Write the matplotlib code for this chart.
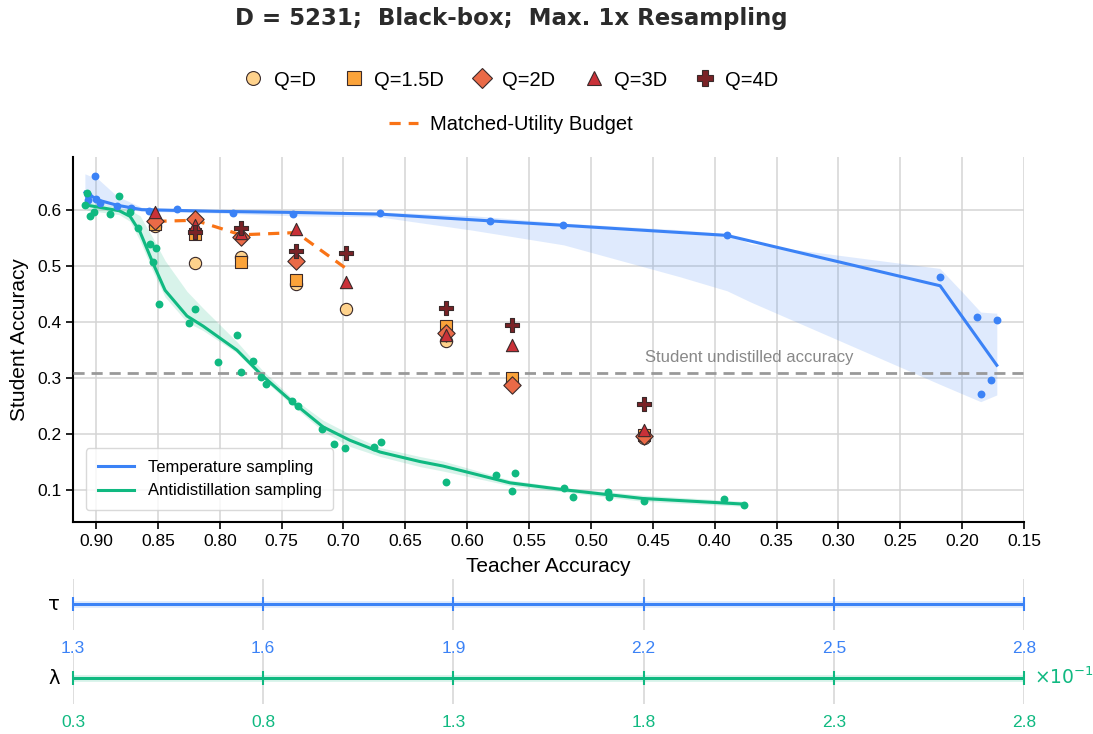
#-  Python 3 source code

#   Student vs. teacher accuracy under temperature and antidistillation
#   sampling, with the matched-budget query results overlaid and the two
#   sampling knobs (tau, lambda) drawn as scales underneath.

import matplotlib
matplotlib.use("Agg")
import matplotlib.pyplot as pyplot
from matplotlib.lines import Line2D
import numpy as np

pyplot.rcParams["font.family"] = ["Liberation Sans", "DejaVu Sans"]

BLUE = "#3B82F6"
GREEN = "#10B981"
ORANGE = "#F97316"

###

# Temperature sampling runs (teacher acc, student acc)
temp_x = [0.9008, 0.9067, 0.9062, 0.9002, 0.8968, 0.8833, 0.8720, 0.8572,
          0.8348, 0.7893, 0.7411, 0.6708, 0.5820, 0.5224, 0.3904, 0.2178,
          0.1884, 0.1720, 0.1768, 0.1851]
temp_y = [0.661, 0.628, 0.618, 0.620, 0.612, 0.607, 0.604, 0.599,
          0.603, 0.595, 0.594, 0.595, 0.580, 0.573, 0.555, 0.481,
          0.410, 0.404, 0.296, 0.271]

# Mean curve and confidence band for temperature sampling
temp_line_x = [0.9089, 0.8981, 0.8833, 0.8631, 0.8038, 0.7411, 0.6708,
               0.5822, 0.5224, 0.3904, 0.2178, 0.1720]
temp_line_y = [0.632, 0.618, 0.609, 0.601, 0.598, 0.596, 0.593,
               0.581, 0.573, 0.555, 0.465, 0.323]
temp_band_x = [0.909, 0.898, 0.883, 0.863, 0.804, 0.741, 0.671, 0.595,
               0.522, 0.428, 0.390, 0.371, 0.218, 0.200, 0.185, 0.172]
temp_band_lo = [0.615, 0.612, 0.604, 0.598, 0.595, 0.590, 0.588, 0.564,
                0.538, 0.481, 0.456, 0.436, 0.289, 0.272, 0.258, 0.270]
temp_band_hi = [0.665, 0.655, 0.625, 0.605, 0.601, 0.599, 0.597, 0.590,
                0.577, 0.565, 0.558, 0.540, 0.496, 0.454, 0.418, 0.416]

# Antidistillation sampling runs
anti_x = [0.9075, 0.9089, 0.9048, 0.9016, 0.8812, 0.8887, 0.8725, 0.8658,
          0.8564, 0.8515, 0.8542, 0.8493, 0.8198, 0.8246, 0.7863, 0.8017,
          0.7734, 0.7828, 0.7667, 0.7629, 0.7419, 0.7368, 0.7172, 0.7075,
          0.6986, 0.6754, 0.6697, 0.6172, 0.5770, 0.5617, 0.5639, 0.5216,
          0.5143, 0.4863, 0.4852, 0.4570, 0.3923, 0.3767]
anti_y = [0.630, 0.609, 0.590, 0.597, 0.626, 0.594, 0.597, 0.568,
          0.539, 0.533, 0.507, 0.432, 0.424, 0.398, 0.377, 0.328,
          0.330, 0.311, 0.302, 0.289, 0.260, 0.251, 0.210, 0.182,
          0.176, 0.177, 0.186, 0.115, 0.127, 0.130, 0.098, 0.104,
          0.088, 0.096, 0.088, 0.080, 0.085, 0.073]

anti_line_x = [0.9075, 0.8812, 0.8725, 0.8644, 0.8539, 0.8442, 0.8265,
               0.8135, 0.7861, 0.7659, 0.7432, 0.7166, 0.6948, 0.6705,
               0.6382, 0.6196, 0.5655, 0.5194, 0.4580, 0.3764]
anti_line_y = [0.609, 0.599, 0.589, 0.561, 0.505, 0.457, 0.411,
               0.393, 0.350, 0.305, 0.261, 0.213, 0.189, 0.168,
               0.151, 0.143, 0.113, 0.100, 0.085, 0.075]
anti_band_lo = [0.600, 0.592, 0.580, 0.545, 0.490, 0.445, 0.400,
                0.385, 0.345, 0.300, 0.255, 0.205, 0.178, 0.160,
                0.142, 0.134, 0.108, 0.096, 0.080, 0.071]
anti_band_hi = [0.615, 0.605, 0.600, 0.590, 0.550, 0.510, 0.455,
                0.425, 0.365, 0.315, 0.268, 0.225, 0.200, 0.176,
                0.160, 0.152, 0.118, 0.104, 0.091, 0.080]

# Query-budget results, one entry per teacher setting (nan = not run)
nan = float("nan")
budget_x = [0.852, 0.820, 0.783, 0.738, 0.698, 0.617, 0.564, 0.457]
q_labels = ["Q=D", "Q=1.5D", "Q=2D", "Q=3D", "Q=4D"]
q_markers = ["o", "s", "D", "^", "P"]
q_colors = ["#FED28C", "#FBA33A", "#EA6A47", "#C93138", "#7A2226"]
q_values = [
    [0.571, 0.506, 0.517, 0.469, 0.424, 0.367, 0.291, 0.193],
    [0.576, 0.557, 0.508, 0.476, nan, 0.393, 0.301, 0.199],
    [0.580, 0.585, 0.552, 0.510, nan, 0.381, 0.288, 0.197],
    [0.597, 0.573, 0.560, 0.566, 0.472, 0.377, 0.359, 0.207],
    [nan, 0.561, 0.569, 0.527, 0.523, 0.426, 0.395, 0.254],
]

matched_x = [0.852, 0.820, 0.783, 0.738, 0.698]
matched_y = [0.580, 0.582, 0.556, 0.560, 0.496]

undistilled_acc = 0.31

tau_ticks = [1.3, 1.6, 1.9, 2.2, 2.5, 2.8]
lambda_ticks = [0.3, 0.8, 1.3, 1.8, 2.3, 2.8]

###

def draw_main(fig):

    ax = fig.add_axes([0.0668, 0.2888, 0.8701, 0.4973])

    ax.fill_between(temp_band_x, temp_band_lo, temp_band_hi,
                    color=BLUE, alpha=0.16, linewidth=0, zorder=2)
    ax.fill_between(anti_line_x, anti_band_lo, anti_band_hi,
                    color=GREEN, alpha=0.16, linewidth=0, zorder=2)

    ax.plot(temp_line_x, temp_line_y, color=BLUE, lw=2.2, zorder=3,
            label="Temperature sampling")
    ax.plot(anti_line_x, anti_line_y, color=GREEN, lw=2.2, zorder=3,
            label="Antidistillation sampling")
    ax.scatter(temp_x, temp_y, s=32, color=BLUE, zorder=4, linewidths=0)
    ax.scatter(anti_x, anti_y, s=32, color=GREEN, zorder=4, linewidths=0)

    ax.axhline(undistilled_acc, color="#999999", lw=2, ls=(0, (4, 2.5)),
               zorder=3)
    ax.text(0.4564, undistilled_acc + 0.027, "Student undistilled accuracy",
            color="#888888", fontsize=12, va="center", ha="left")

    ax.plot(matched_x, matched_y, color=ORANGE, lw=2.3, ls=(0, (3.5, 2.5)),
            zorder=5)

    for vals, mk, col in zip(q_values, q_markers, q_colors):
        size = 90 if mk == "P" else 78
        ax.scatter(budget_x, vals, marker=mk, s=size, color=col,
                   edgecolors="#3a2a2a", linewidths=0.8, zorder=6)

    ax.set_xlim(0.9186, 0.15)
    ax.set_ylim(0.043, 0.695)
    ax.set_xticks(np.arange(0.90, 0.149, -0.05))
    ax.set_xticklabels(["%.2f" % v for v in np.arange(0.90, 0.149, -0.05)])
    ax.set_yticks([0.1, 0.2, 0.3, 0.4, 0.5, 0.6])
    ax.tick_params(labelsize=12.5, length=5, width=1.2, color="black")
    ax.set_xlabel("Teacher Accuracy", fontsize=15, labelpad=6)
    ax.set_ylabel("Student Accuracy", fontsize=15, labelpad=6)

    ax.grid(color="#d4d4d4", lw=1.1, zorder=0)
    ax.set_axisbelow(True)
    for side in ("top", "right"):
        ax.spines[side].set_visible(False)
    for side in ("left", "bottom"):
        ax.spines[side].set_linewidth(1.5)

    ax.legend(loc="lower left", fontsize=12, frameon=True, fancybox=True,
              edgecolor="#d0d0d0", borderpad=0.7, handlelength=2.2,
              bbox_to_anchor=(0.005, 0.01))
    return ax


def draw_scale(fig, bottom, ticks, color, name, scale_note=None):

    ax = fig.add_axes([0.0668, bottom, 0.8701, 0.070])
    ax.patch.set_visible(False)
    ax.set_xlim(ticks[0], ticks[-1])
    ax.set_ylim(-1, 1)
    ax.set_xticks(ticks)
    ax.set_xticklabels(["%.1f" % t for t in ticks], color=color,
                       fontsize=12.5)
    ax.tick_params(length=0, pad=8)
    ax.set_yticks([])
    ax.grid(axis="x", color="#d4d4d4", lw=1.1, zorder=0)
    for side in ax.spines:
        ax.spines[side].set_visible(False)

    ax.plot([ticks[0], ticks[-1]], [0, 0], color=color, lw=5, alpha=0.15,
            solid_capstyle="butt", zorder=2, clip_on=False)
    ax.plot([ticks[0], ticks[-1]], [0, 0], color=color, lw=2.2,
            solid_capstyle="butt", zorder=3, clip_on=False)
    ax.plot(ticks, [0] * len(ticks), ls="none", marker="|", ms=10,
            mew=1.5, color=color, zorder=4, clip_on=False)

    ax.text(-0.02, 0.5, name, transform=ax.transAxes, fontsize=14,
            ha="center", va="center", family="DejaVu Sans")
    if scale_note:
        ax.text(1.01, 0.52, scale_note, transform=ax.transAxes,
                fontsize=13.5, color=color, ha="left", va="center")
    return ax


def main():

    fig = pyplot.figure(figsize=(10.93, 7.34), dpi=100)

    center = 511 / 1093

    fig.text(center, 1 - 18 / 734, "D = 5231;  Black-box;  Max. 1x Resampling",
             ha="center", va="center", fontsize=16.5, fontweight="bold",
             family="DejaVu Sans", color="#2b2b2b")

    handles = [Line2D([], [], ls="none", marker=mk,
                      markersize=10 if mk != "P" else 11,
                      markerfacecolor=col, markeredgecolor="#3a2a2a",
                      markeredgewidth=0.8)
               for mk, col in zip(q_markers, q_colors)]
    fig.legend(handles, q_labels, loc="center", ncol=5, frameon=False,
               fontsize=14.5, bbox_to_anchor=(center, 1 - 80 / 734),
               handlelength=1.0, handletextpad=0.5, columnspacing=1.4)
    dash = Line2D([], [], color=ORANGE, lw=2.3, ls=(0, (3.5, 2.5)))
    fig.legend([dash], ["Matched-Utility Budget"], loc="center",
               frameon=False, fontsize=14.5, handlelength=1.4,
               bbox_to_anchor=(center, 1 - 125 / 734), handletextpad=0.6)

    draw_main(fig)
    draw_scale(fig, 1 - 630 / 734, tau_ticks, BLUE, "τ")
    draw_scale(fig, 1 - 704 / 734, lambda_ticks, GREEN, "λ",
               scale_note=r"$\times 10^{-1}$")

    fig.savefig("out.png", dpi=100)

###

if __name__ == "__main__":
    main()
